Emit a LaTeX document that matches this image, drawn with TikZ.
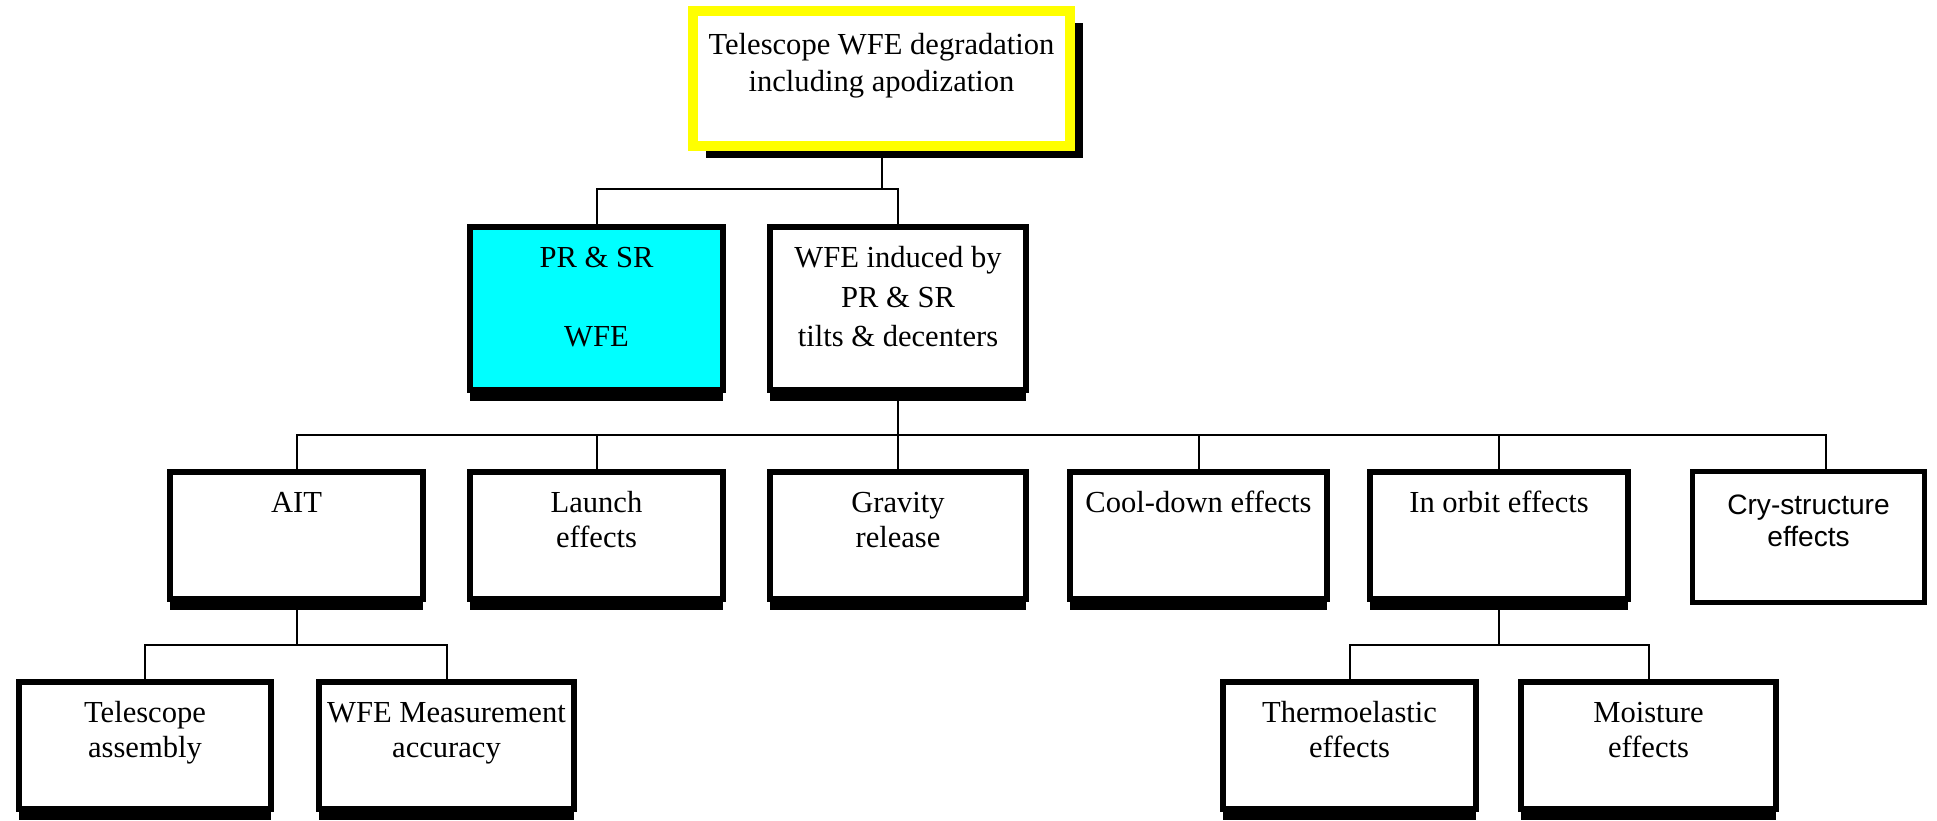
\documentclass[tikz,border=0pt]{standalone}
\usepackage{fontspec}
\setmainfont{Liberation Serif}
\newfontfamily\sansf{Liberation Sans}
\usetikzlibrary{shadows}
\definecolor{boxyellow}{RGB}{255,255,0}
\definecolor{boxcyan}{RGB}{0,255,255}
\newcommand\firstln{\rule{0pt}{15pt}}
\pgfdeclarelayer{background}
\pgfsetlayers{background,main}
\tikzset{
  box/.style={rectangle, draw=black, line width=0.12cm, fill=white, inner sep=0pt},
  shbox/.style={box, drop shadow={shadow xshift=0cm, shadow yshift=-0.22cm, opacity=1, fill=black}},
  topbox/.style={rectangle, draw=boxyellow, line width=0.2cm, fill=white, inner sep=0pt,
    drop shadow={shadow xshift=0.26cm, shadow yshift=-0.24cm, opacity=1, fill=black}},
  crybox/.style={rectangle, draw=black, line width=0.1cm, fill=white, inner sep=0pt},
  conn/.style={draw=black, line width=0.04cm},
  lbl/.style={anchor=north, inner sep=0pt, align=center, yshift=-0.34cm, font=\fontsize{17.4}{20}\selectfont},
}
\begin{document}
\begin{tikzpicture}[x=0.02cm, y=-0.02cm]
\useasboundingbox (0,0) rectangle (1937,821);

% top
\node[topbox, minimum width=7.54cm, minimum height=2.70cm] (top) at (881.5,78.5) {};
\node[lbl, yshift=-0.1cm, font=\fontsize{17.4}{21}\selectfont] (ttop) at (top.north) {\firstln Telescope WFE degradation\\including apodization};

% row 1
\node[shbox, fill=boxcyan, minimum width=5.06cm, minimum height=3.26cm] (prsr) at (596.5,308.5) {};
\node[shbox, minimum width=5.12cm, minimum height=3.26cm] (wfeind) at (898,308.5) {};
\node[lbl, font=\fontsize{17.4}{22.5}\selectfont] (tprsr) at (prsr.north) {\firstln PR \& SR\\[22.5pt]WFE};
\node[lbl, font=\fontsize{17.4}{22.5}\selectfont] (twfeind) at (wfeind.north) {\firstln WFE induced by\\PR \& SR\\tilts \& decenters};

% row 2
\node[shbox, minimum width=5.06cm, minimum height=2.54cm] (ait) at (296.5,535.5) {};
\node[shbox, minimum width=5.06cm, minimum height=2.54cm] (launch) at (596.5,535.5) {};
\node[shbox, minimum width=5.12cm, minimum height=2.54cm] (gravity) at (898,535.5) {};
\node[shbox, minimum width=5.14cm, minimum height=2.54cm] (cool) at (1198.5,535.5) {};
\node[shbox, minimum width=5.16cm, minimum height=2.54cm] (inorbit) at (1499,535.5) {};
\node[crybox, minimum width=4.64cm, minimum height=2.62cm] (cry) at (1808.5,537) {};
\node[lbl] (tait) at (ait.north) {\firstln AIT};
\node[lbl] (tlaunch) at (launch.north) {\firstln Launch\\effects};
\node[lbl] (tgravity) at (gravity.north) {\firstln Gravity\\release};
\node[lbl] (tcool) at (cool.north) {\firstln Cool-down effects};
\node[lbl] (tinorbit) at (inorbit.north) {\firstln In orbit effects};
\node[lbl, yshift=-0.03cm, font=\sansf\fontsize{16}{18.2}\selectfont] (tcry) at (cry.north) {\firstln Cry-structure\\effects};

% row 3
\node[shbox, minimum width=5.04cm, minimum height=2.54cm] (tel) at (145,745.5) {};
\node[shbox, minimum width=5.10cm, minimum height=2.54cm] (meas) at (446.5,745.5) {};
\node[shbox, minimum width=5.06cm, minimum height=2.54cm] (thermo) at (1349.5,745.5) {};
\node[shbox, minimum width=5.10cm, minimum height=2.54cm] (moist) at (1648.5,745.5) {};
\node[lbl] (ttel) at (tel.north) {\firstln Telescope\\assembly};
\node[lbl] (tmeas) at (meas.north) {\firstln WFE Measurement\\accuracy};
\node[lbl] (tthermo) at (thermo.north) {\firstln Thermoelastic\\effects};
\node[lbl] (tmoist) at (moist.north) {\firstln Moisture\\effects};

% connectors
\begin{pgfonlayer}{background}
\coordinate (j1) at (881.5,189);
\draw[conn] (top.south) -- (j1);
\draw[conn] (prsr.north) |- (j1) -| (wfeind.north);
\coordinate (j2) at (898,435);
\coordinate (cryin) at ([xshift=0.35cm]cry.north);
\draw[conn] (wfeind.south) -- (j2);
\draw[conn] (ait.north) |- (j2) -| (cryin);
\foreach \n in {launch,gravity,cool,inorbit} \draw[conn] (\n.north) -- (\n.north |- j2);
\coordinate (j3) at (296.5,645);
\draw[conn] (ait.south) -- (j3);
\draw[conn] (tel.north) |- (j3) -| (meas.north);
\coordinate (j4) at (1499,645);
\draw[conn] (inorbit.south) -- (j4);
\draw[conn] (thermo.north) |- (j4) -| (moist.north);
\end{pgfonlayer}
\end{tikzpicture}
\end{document}
